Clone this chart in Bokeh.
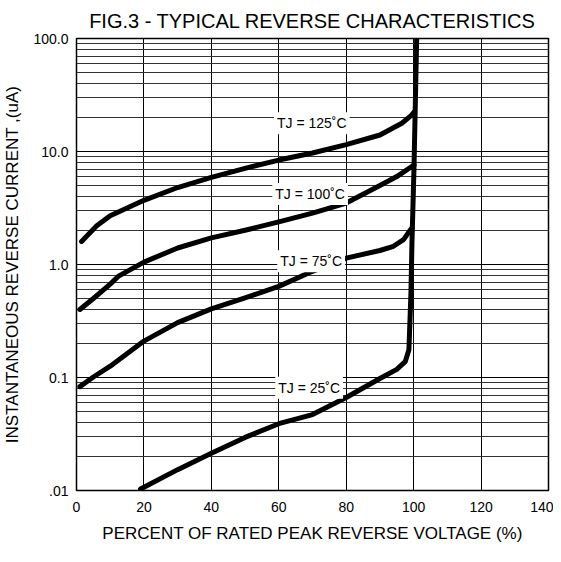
from bokeh.plotting import figure
from bokeh.models import FixedTicker, Label, Range1d
from bokeh.embed import file_html
from bokeh.resources import INLINE

# ---- text ----
title_text = "FIG.3 - TYPICAL REVERSE CHARACTERISTICS"
x_title = "PERCENT OF RATED PEAK REVERSE VOLTAGE (%)"
y_title = "INSTANTANEOUS REVERSE CURRENT ,(uA)"

# ---- ticks ----
x_ticks = [0, 20, 40, 60, 80, 100, 120, 140]
y_ticks = [0.01, 0.1, 1, 10, 100]
y_tick_labels = [".01", "0.1", "1.0", "10.0", "100.0"]
y_minor_mult = [2, 3, 4, 5, 6, 7, 8, 9]

# ---- series (percent of rated voltage, reverse current uA) ----
tj125_x = [1.5, 6, 10, 20, 30, 40, 50, 60, 70, 80, 90, 96.5, 99.4, 100.2]
tj125_y = [1.6, 2.2, 2.7, 3.7, 4.8, 5.9, 7.1, 8.4, 9.7, 11.5, 14.0, 17.8, 21.0, 22.5]

tj100_x = [1, 5, 10, 12.5, 20, 30, 40, 50, 60, 70, 80, 90, 95, 100.1]
tj100_y = [0.40, 0.50, 0.67, 0.79, 1.05, 1.40, 1.72, 2.01, 2.38, 2.85, 3.5, 5.0, 6.0, 7.6]

tj75_x = [1, 5, 10, 20, 30, 40, 50, 60, 70, 80, 90, 94, 97, 99.4]
tj75_y = [0.083, 0.101, 0.126, 0.21, 0.306, 0.405, 0.507, 0.64, 0.87, 1.14, 1.33, 1.45, 1.66, 2.1]

tj25_x = [19, 30, 40, 50, 60, 70, 80, 90, 95, 97.5, 98.6, 99.2, 99.5, 100.1, 100.5, 100.9]
tj25_y = [0.0103, 0.0153, 0.0214, 0.0295, 0.039, 0.047, 0.0665, 0.098, 0.118, 0.138, 0.176,
          0.56, 1.55, 7.1, 26.7, 100]

label_texts = ["TJ = 125˚C", "TJ = 100˚C", "TJ = 75˚C", "TJ = 25˚C"]
label_x = [69.8, 69.3, 69.6, 69.0]
label_y = [17.8, 4.2, 1.07, 0.081]

FONT = "Liberation Sans"

p = figure(width=553, height=546, y_axis_type="log",
           x_range=Range1d(0, 140), y_range=Range1d(0.01, 100),
           output_backend="svg", toolbar_location=None,
           min_border_left=72, min_border_right=5, min_border_top=37, min_border_bottom=56,
           title=title_text)

p.background_fill_color = "white"
p.border_fill_color = "white"
p.outline_line_color = "black"
p.outline_line_width = 1.5

p.title.align = "center"
p.title.text_font = FONT
p.title.text_font_size = "20px"
p.title.text_font_style = "normal"
p.title.text_color = "black"
p.title.standoff = 14

minor = [m * t for t in y_ticks[:-1] for m in y_minor_mult]
p.xaxis.ticker = FixedTicker(ticks=x_ticks)
p.yaxis.ticker = FixedTicker(ticks=y_ticks, minor_ticks=minor)
p.yaxis.major_label_overrides = {t: s for t, s in zip(y_ticks, y_tick_labels)}

for ax in (p.xaxis, p.yaxis):
    ax.axis_line_color = None
    ax.major_tick_line_color = None
    ax.minor_tick_line_color = None
    ax.major_tick_out = 0
    ax.major_tick_in = 0
    ax.minor_tick_out = 0
    ax.minor_tick_in = 0
    ax.major_label_text_font = FONT
    ax.major_label_text_font_size = "14px"
    ax.major_label_text_color = "black"
    ax.axis_label_text_font = FONT
    ax.axis_label_text_font_size = "17px"
    ax.axis_label_text_font_style = "normal"
    ax.axis_label_text_color = "black"

p.xaxis.axis_label = x_title
p.yaxis.axis_label = y_title
p.xaxis.major_label_standoff = 11
p.xaxis.axis_label_standoff = 9
p.yaxis.major_label_standoff = 8
p.yaxis.axis_label_standoff = 8

p.xgrid.grid_line_color = "black"
p.xgrid.grid_line_width = 1
p.ygrid.grid_line_color = "black"
p.ygrid.grid_line_width = 1
p.ygrid.minor_grid_line_color = "#333333"
p.ygrid.minor_grid_line_width = 1

for xs, ys in [(tj125_x, tj125_y), (tj100_x, tj100_y), (tj75_x, tj75_y), (tj25_x, tj25_y)]:
    p.line(xs, ys, line_width=5, color="black", line_join="round", line_cap="round")

for t, lx, ly in zip(label_texts, label_x, label_y):
    p.add_layout(Label(x=lx, y=ly, text=t, text_align="center", text_baseline="middle",
                       text_font=FONT, text_font_size="14px", text_color="black",
                       background_fill_color="white", padding=3))

open("out.html", "w").write(file_html(p, INLINE))
